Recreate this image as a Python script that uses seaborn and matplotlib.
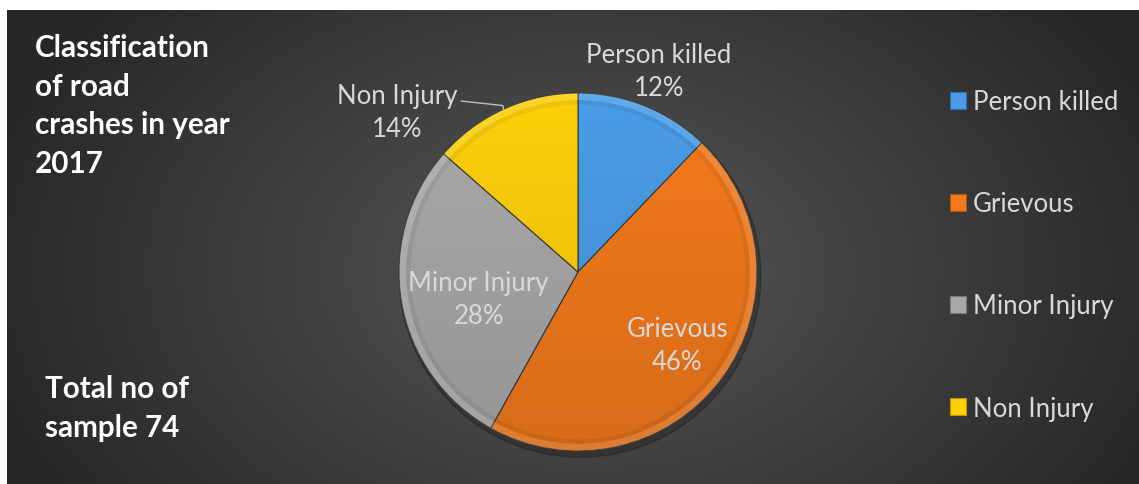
import numpy as np
import matplotlib
matplotlib.use("Agg")
import matplotlib.pyplot as plt
import seaborn as sns
from matplotlib.patches import Patch, Wedge, Circle

categories = ["Person killed", "Grievous", "Minor Injury", "Non Injury"]
counts = [9, 34, 21, 10]  # total sample 74
pct_labels = ["12%", "46%", "28%", "14%"]
title_text = "Classification\nof road\ncrashes in year\n2017"
note_text = "Total no of\nsample 74"

sns.set_theme(style="white")
plt.rcParams['font.family'] = ['Lato', 'DejaVu Sans']

colors = ["#4a9ce6", "#f47a1c", "#a9a9a9", "#fccf0a"]
edge_colors = ["#2f6fae", "#b5560f", "#7a7a7a", "#b89400"]
text_col = "#d9d9d9"

W, H = 1139, 485
fig = plt.figure(figsize=(W / 100, H / 100), dpi=100)
fig.patch.set_facecolor("white")

# background panel with radial gradient
bx0, by_top = 7, 11
bg = fig.add_axes([bx0 / W, 0, (W - bx0) / W, (H - by_top) / H])
bg.set_axis_off()
nx, ny = 600, 260
xs = np.linspace(0, W - bx0, nx)
ys = np.linspace(0, H - by_top, ny)
X, Y = np.meshgrid(xs, ys)
cx, cy = 580, 260
d = np.sqrt(((X - cx) / 620) ** 2 + ((Y - cy) / 420) ** 2)
d = np.clip(d, 0, 1)
lum = 0x58 / 255 * (1 - d) + 0x27 / 255 * d
img = np.dstack([lum, lum, lum])
bg.imshow(img, aspect="auto", extent=[0, 1, 0, 1], origin="upper")
bg.set_xlim(0, 1)
bg.set_ylim(0, 1)

# pie axes
R = 179
pcx, pcy = 578, 273
half = 250
ax = fig.add_axes([(pcx - half) / W, (H - pcy - half) / H, 2 * half / W, 2 * half / H])
lim = half / R

# shadow
ax.add_patch(Circle((0.012, -0.025), 1.01, color="black", alpha=0.22, zorder=0))
wedges, _ = ax.pie(counts, startangle=90, counterclock=False, colors=colors,
                   radius=1.0, wedgeprops=dict(linewidth=0.8, edgecolor="#3a3a3a"))
ax.set_axis_off()
ax.set_xlim(-lim, lim)
ax.set_ylim(-lim, lim)
ax.set_aspect("equal")
for w in wedges:
    w.set_zorder(1)

# vertical shading overlay (lighter top, darker bottom)
gy = np.linspace(0, 1, 200)[:, None] * np.ones((1, 2))  # row 0 = top
shade = np.zeros((200, 2, 4))
shade[..., 3] = 0.12 * gy
im = ax.imshow(shade, extent=[-1, 1, -1, 1], origin="upper", zorder=2, aspect="auto")
clipc = Circle((0, 0), 1.0, transform=ax.transData)
im.set_clip_path(clipc)

# bevel rim highlight
for w in wedges:
    ax.add_patch(Wedge((0, 0), 1.0, w.theta1, w.theta2, width=0.04,
                       facecolor="white", alpha=0.12, linewidth=0, zorder=3))
    ax.add_patch(Wedge((0, 0), 0.96, w.theta1, w.theta2, width=0.025,
                       facecolor="black", alpha=0.06, linewidth=0, zorder=3))

total = sum(counts)
angles = []
start = 90.0
for c in counts:
    span = 360.0 * c / total
    angles.append((start, start - span))
    start -= span

def mid(i):
    a0, a1 = angles[i]
    return np.deg2rad((a0 + a1) / 2)

fs = 18.5
ls = 1.4
# Person killed - outside
a = mid(0)
ax.text(1.21 * np.cos(a), 1.21 * np.sin(a), f"{categories[0]}\n{pct_labels[0]}",
        ha="center", va="center", color=text_col, fontsize=fs, linespacing=ls)
# Grievous - inside
a = mid(1)
ax.text(0.69 * np.cos(a), 0.69 * np.sin(a), f"{categories[1]}\n{pct_labels[1]}",
        ha="center", va="center", color=text_col, fontsize=fs, linespacing=ls, zorder=5)
# Minor Injury - inside
a = mid(2) + np.deg2rad(5.5)
ax.text(0.575 * np.cos(a), 0.575 * np.sin(a), f"{categories[2]}\n{pct_labels[2]}",
        ha="center", va="center", color=text_col, fontsize=fs, linespacing=ls, zorder=5)
# Non Injury - outside with leader line
a_edge = np.deg2rad(114.6)
ax.text(-1.012, 0.895, f"{categories[3]}\n{pct_labels[3]}", ha="center", va="center",
        color=text_col, fontsize=fs, linespacing=ls)
ax.plot([-0.652, -0.42, np.cos(a_edge)], [0.955, 0.93, np.sin(a_edge)],
        color="#bfbfbf", lw=1.0, zorder=3)

# title and note
fig.text(35 / W, 1 - 34 / H, title_text, ha="left", va="top", color="white",
         fontsize=21.3, fontweight="bold", linespacing=1.46)
fig.text(45 / W, 1 - 375 / H, note_text, ha="left", va="top", color="white",
         fontsize=21.3, fontweight="bold", linespacing=1.46)

# legend
handles = [Patch(facecolor=c, edgecolor=e, linewidth=0.8) for c, e in zip(colors, edge_colors)]
leg = fig.legend(handles, categories, loc="upper left",
                 bbox_to_anchor=(940 / W, 1 - 80 / H), frameon=False,
                 fontsize=fs, labelcolor=text_col, labelspacing=3.0,
                 handlelength=0.62, handleheight=0.62, handletextpad=0.25,
                 borderaxespad=0)

fig.savefig("out.png", dpi=100, facecolor=fig.get_facecolor())
